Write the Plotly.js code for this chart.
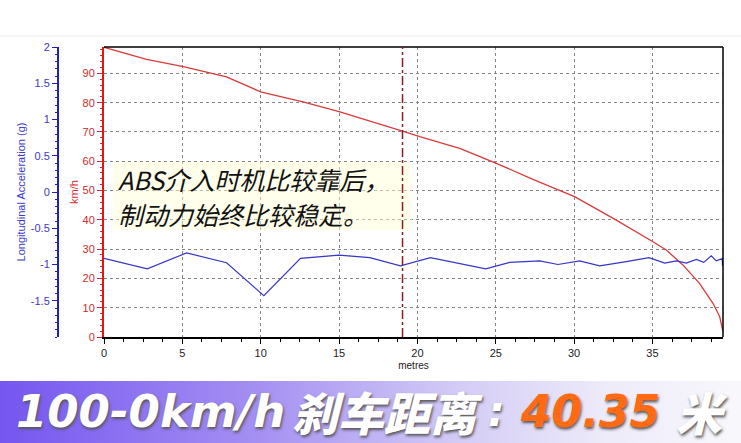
<!DOCTYPE html>
<html>
<head>
<meta charset="utf-8">
<script src="https://cdn.plot.ly/plotly-3.0.1.min.js"></script>
<style>html,body{margin:0;padding:0;background:#fff;}#chart{width:741px;height:443px;}</style>
</head>
<body>
<div id="chart"></div>
<script>
// ---- data ----
const speedDist = [0, 2.72, 5.06, 7.82, 9.99, 12.7, 15.0, 17.17, 19.05, 20.15, 22.7, 25.04, 27.37, 30.03, 32.69, 35.03, 35.88, 36.94, 38.0, 38.86, 39.29, 39.5];
const speedKmh  = [98.9, 94.8, 92.3, 88.8, 83.7, 80.3, 76.9, 73.5, 70.3, 68.4, 64.4, 59.3, 53.8, 47.9, 39.9, 32.5, 29.7, 24.6, 18.3, 11.5, 6.9, 1.8];
const accDist = [0, 2.76, 5.27, 7.82, 10.2, 12.54, 15.0, 16.96, 18.92, 20.83, 24.36, 25.89, 27.8, 28.97, 30.36, 31.63, 33.33, 34.78, 35.78, 36.52, 37.16, 37.8, 38.27, 38.75, 39.07, 39.45, 39.47];
const accG    = [-0.915, -1.06, -0.84, -0.975, -1.43, -0.915, -0.87, -0.906, -1.02, -0.906, -1.06, -0.97, -0.95, -1.0, -0.95, -1.02, -0.96, -0.906, -0.98, -0.95, -0.98, -0.93, -0.97, -0.88, -0.95, -0.92, -1.02];
const markerX = 19.05;
const accTickVals = [-1.5, -1, -0.5, 0, 0.5, 1, 1.5, 2];
const accTickText = ['-1.5', '-1', '-0.5', '0', '0.5', '1', '1.5', '2'];
const noteLines = ['ABS介入时机比较靠后，', '制动力始终比较稳定。'];
const bannerParts = ['100-0km/h', '刹车距离', ':', '40.35', '米'];

// ---- layout helpers (pixel -> paper) ----
const W = 741, H = 443;
const px = v => v / W;
const py = v => (H - v) / H;

const red = '#d42a2a', blue = '#3535c8';

const traces = [
  {x: speedDist, y: speedKmh, type: 'scatter', mode: 'lines', line: {color: '#d83a3a', width: 1.3}, yaxis: 'y', hoverinfo: 'skip'},
  {x: accDist, y: accG, type: 'scatter', mode: 'lines', line: {color: blue, width: 1.2}, yaxis: 'y2', hoverinfo: 'skip'}
];

const gradSvg = '<svg xmlns="http://www.w3.org/2000/svg" width="741" height="62"><defs><linearGradient id="g" x1="0" x2="1" y1="0" y2="0"><stop offset="0" stop-color="#7556f0"/><stop offset="0.35" stop-color="#a590f2"/><stop offset="0.62" stop-color="#d4ccf6"/><stop offset="0.82" stop-color="#eeebfa"/><stop offset="1" stop-color="#f8f8fc"/></linearGradient></defs><rect width="741" height="62" fill="url(#g)"/></svg>';
const gradUri = 'data:image/svg+xml;charset=utf-8,' + encodeURIComponent(gradSvg);

const tickFont = {family: 'Liberation Sans, Arial, sans-serif', size: 11};
const latinBanner = (size, color) => ({family: 'DejaVu Sans, sans-serif', size: size, color: color, weight: 'bold', style: 'italic', shadow: '1px 2px 3px #555'});
const cjkBanner = (size, color) => ({family: 'Noto Sans CJK SC, sans-serif', size: size, color: color, weight: 900, style: 'italic', shadow: '1px 2px 3px #555'});
const noteFont = {family: 'Noto Sans CJK SC, sans-serif', size: 25, color: '#111', style: 'italic'};

const bannerY = py(411);

const layout = {
  width: W, height: H,
  margin: {l: 0, r: 0, t: 0, b: 0},
  paper_bgcolor: '#fff', plot_bgcolor: '#fff',
  showlegend: false,
  xaxis: {
    domain: [px(104), px(723)], range: [0, 39.5], anchor: 'y',
    showline: true, linecolor: '#000', linewidth: 1.5,
    ticks: 'outside', ticklen: 5, tickcolor: '#000', dtick: 5, tick0: 0,
    minor: {dtick: 1.25, ticks: 'outside', ticklen: 3, tickcolor: '#000', showgrid: false},
    showgrid: true, gridcolor: '#858585', griddash: '3px,3px', gridwidth: 1,
    zeroline: false,
    tickfont: Object.assign({color: '#222'}, tickFont),
    title: {text: 'metres', font: {family: 'Liberation Sans, Arial, sans-serif', size: 10, color: '#222'}, standoff: 4}
  },
  yaxis: {
    domain: [py(337), py(47)], range: [0, 99], anchor: 'x', side: 'left',
    showline: true, linecolor: '#e01515', linewidth: 2,
    ticks: 'outside', ticklen: 5, tickcolor: red, dtick: 10, tick0: 0,
    minor: {dtick: 2, ticks: 'outside', ticklen: 2, tickcolor: red, showgrid: false},
    showgrid: true, gridcolor: '#858585', griddash: '3px,3px', gridwidth: 1,
    zeroline: false,
    tickfont: Object.assign({color: red}, tickFont),
    title: {text: 'km/h', font: {family: 'Liberation Sans, Arial, sans-serif', size: 11, color: red}, standoff: 2}
  },
  yaxis2: {
    overlaying: 'y', anchor: 'free', position: px(58), side: 'left',
    range: [-2, 2],
    showline: true, linecolor: '#2020c0', linewidth: 2,
    ticks: 'outside', ticklen: 5, tickcolor: '#2020c0',
    tickvals: accTickVals, ticktext: accTickText,
    minor: {dtick: 0.1, ticks: 'outside', ticklen: 2, tickcolor: '#2020c0'},
    showgrid: false, zeroline: false,
    tickfont: Object.assign({color: '#3a3ac8'}, tickFont),
    title: {text: 'Longitudinal Acceleration (g)', font: {family: 'Liberation Sans, Arial, sans-serif', size: 11, color: '#3a3ac8'}, standoff: 2}
  },
  shapes: [
    {type: 'rect', xref: 'paper', yref: 'paper', x0: px(113), x1: px(412), y0: py(230), y1: py(162), line: {width: 0}, fillcolor: 'rgba(255,255,210,0.45)', layer: 'above'},
    {type: 'line', xref: 'paper', yref: 'paper', x0: px(104), x1: px(723), y0: py(47), y1: py(47), line: {color: '#000', width: 1.5}},
    {type: 'line', xref: 'paper', yref: 'paper', x0: px(723), x1: px(723), y0: py(47), y1: py(337), line: {color: '#000', width: 1.5}},
    {type: 'line', xref: 'x', yref: 'paper', x0: markerX, x1: markerX, y0: py(337), y1: py(47), line: {color: '#8b1c1c', width: 1.5, dash: 'dashdot'}},
    {type: 'line', xref: 'paper', yref: 'paper', x0: 0, x1: 1, y0: py(36), y1: py(36), line: {color: '#ececec', width: 1}}
  ],
  images: [
    {source: gradUri, xref: 'paper', yref: 'paper', x: 0, y: py(381), sizex: 1, sizey: 62 / H, sizing: 'stretch', xanchor: 'left', yanchor: 'top', layer: 'below'}
  ],
  annotations: [
    {text: noteLines[0], xref: 'paper', yref: 'paper', x: px(116), y: py(179.5), xanchor: 'left', yanchor: 'middle', align: 'left', showarrow: false, font: noteFont},
    {text: noteLines[1], xref: 'paper', yref: 'paper', x: px(116), y: py(213.5), xanchor: 'left', yanchor: 'middle', align: 'left', showarrow: false, font: noteFont},
    {text: bannerParts[0], xref: 'paper', yref: 'paper', x: px(14), y: bannerY, xanchor: 'left', yanchor: 'middle', showarrow: false, font: latinBanner(45, '#fff')},
    {text: bannerParts[1], xref: 'paper', yref: 'paper', x: px(290), y: bannerY, xanchor: 'left', yanchor: 'middle', showarrow: false, font: cjkBanner(46, '#fff')},
    {text: bannerParts[2], xref: 'paper', yref: 'paper', x: px(486), y: bannerY, xanchor: 'left', yanchor: 'middle', showarrow: false, font: latinBanner(42, '#fff')},
    {text: bannerParts[3], xref: 'paper', yref: 'paper', x: px(518), y: bannerY, xanchor: 'left', yanchor: 'middle', showarrow: false, font: latinBanner(44, '#ff6a12')},
    {text: bannerParts[4], xref: 'paper', yref: 'paper', x: px(674), y: bannerY, xanchor: 'left', yanchor: 'middle', showarrow: false, font: cjkBanner(46, '#fff')}
  ]
};

Plotly.newPlot('chart', traces, layout, {staticPlot: true, displayModeBar: false});
</script>
</body>
</html>
